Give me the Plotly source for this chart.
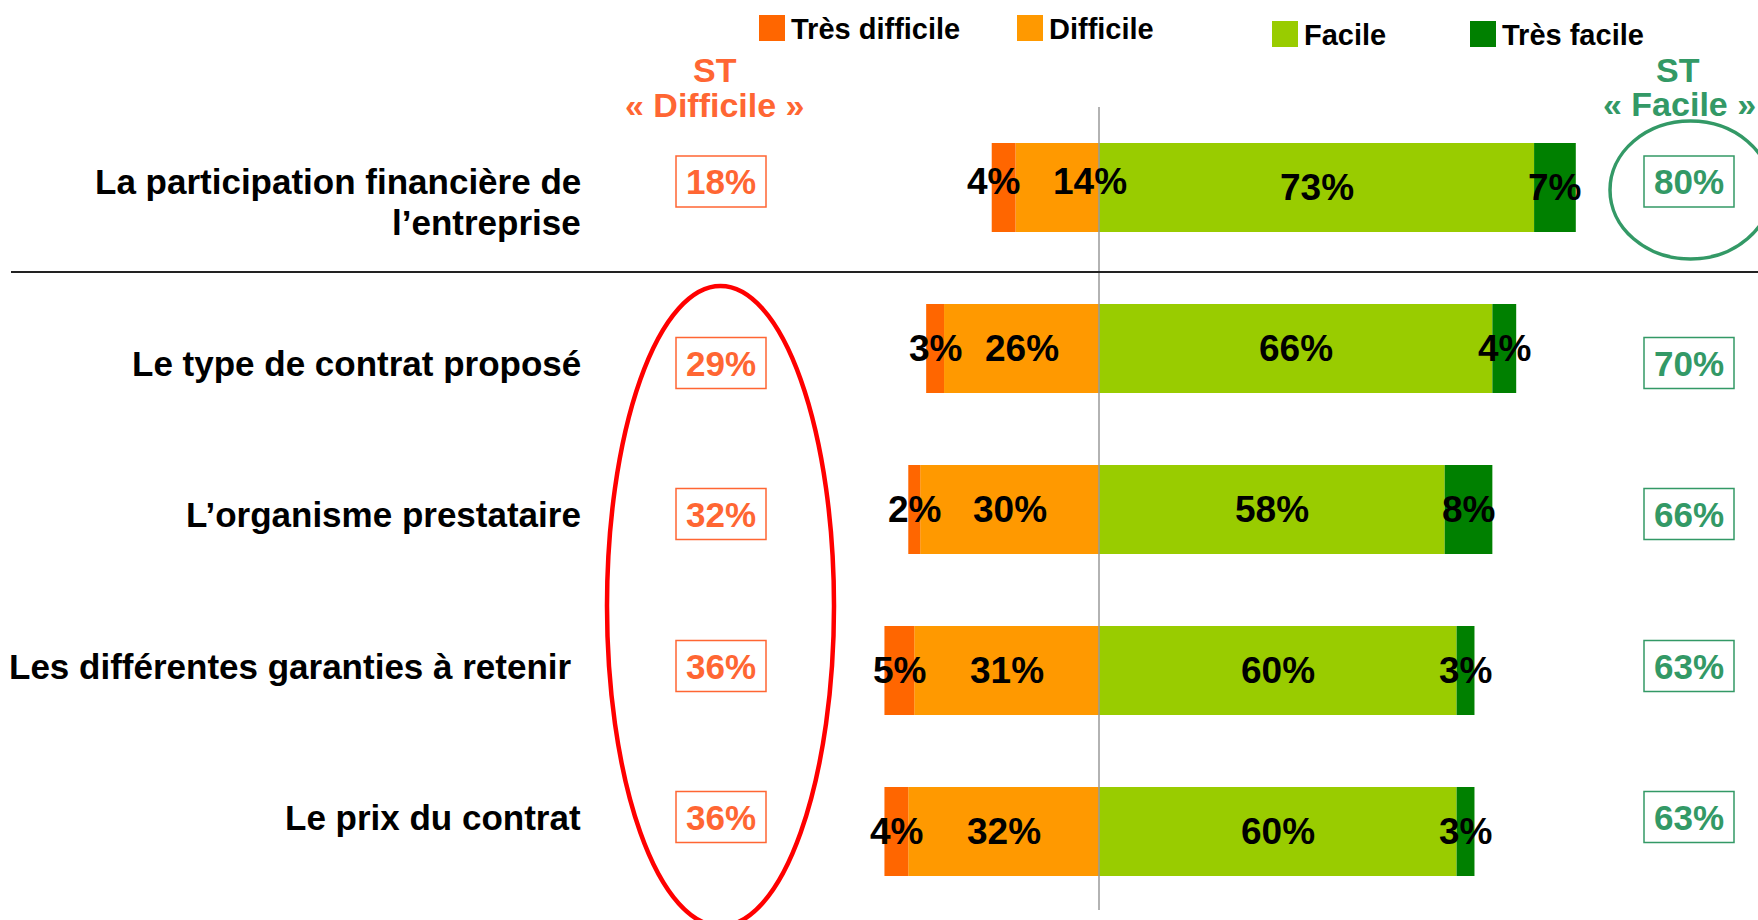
import plotly.graph_objects as go

# ---------------- data ----------------
categories = [
    "La participation financière de<br>l’entreprise",
    "Le type de contrat proposé",
    "L’organisme prestataire",
    "Les différentes garanties à retenir\u00a0",
    "Le prix du contrat",
]
tres_difficile = [4, 3, 2, 5, 4]
difficile = [14, 26, 30, 31, 32]
facile = [73, 66, 58, 60, 60]
tres_facile = [7, 4, 8, 3, 3]
st_difficile = [18, 29, 32, 36, 36]
st_facile = [80, 70, 66, 63, 63]
series_names = ["Très difficile", "Difficile", "Facile", "Très facile"]

# ---------------- styles ----------------
W, H = 1758, 920
C_TD, C_D, C_F, C_TF = "#FF6600", "#FF9900", "#99CC00", "#008000"
ORANGE_TXT = "#FF6633"
GREEN_TXT = "#339966"
FONT = "Liberation Sans, Arial, sans-serif"


def px(x):
    return x / W


def py(y):
    return 1 - y / H


fig = go.Figure()
rows = list(range(len(categories)))
for vals, color, sign in [(difficile, C_D, -1), (tres_difficile, C_TD, -1),
                          (facile, C_F, 1), (tres_facile, C_TF, 1)]:
    fig.add_trace(go.Bar(
        y=rows, x=[sign * v for v in vals], orientation="h",
        marker=dict(color=color, line=dict(width=0)),
        width=0.553, showlegend=False, hoverinfo="skip",
    ))

annotations = []
shapes = []

# bar value labels (centered in each segment)
nudge = {(0, "td"): (-10, 6), (0, "d"): (33, 6)}
for i in rows:
    segs = [
        ("td", -(difficile[i] + tres_difficile[i] / 2), tres_difficile[i]),
        ("d", -difficile[i] / 2, difficile[i]),
        ("f", facile[i] / 2, facile[i]),
        ("tf", facile[i] + tres_facile[i] / 2, tres_facile[i]),
    ]
    for key, xc, v in segs:
        dx, dy = nudge.get((i, key), (0, 0))
        annotations.append(dict(
            x=xc, y=i, xref="x", yref="y", text=f"{v}%", showarrow=False,
            xshift=dx, yshift=dy,
            font=dict(family=FONT, size=37, color="black", weight="bold"),
        ))

# row text / box vertical positions (pixels)
box_y = [181.5, 363, 514, 666, 817]
label_y = [[181, 222], [363], [514], [666], [817]]

for i, cat in enumerate(categories):
    for line, yy in zip(cat.split("<br>"), label_y[i]):
        annotations.append(dict(
            x=px(583), y=py(yy), xref="paper", yref="paper", text=line,
            showarrow=False, xanchor="right", yanchor="middle",
            font=dict(family=FONT, size=35, color="black", weight="bold"),
        ))
    # ST boxes
    for val, xc, col in [(st_difficile[i], 721, ORANGE_TXT), (st_facile[i], 1689, GREEN_TXT)]:
        shapes.append(dict(
            type="rect", xref="paper", yref="paper",
            x0=px(xc - 45), x1=px(xc + 45), y0=py(box_y[i] - 25.5), y1=py(box_y[i] + 25.5),
            line=dict(color=col, width=1.5), fillcolor="white", layer="above",
        ))
        annotations.append(dict(
            x=px(xc), y=py(box_y[i]), xref="paper", yref="paper", text=f"{val}%",
            showarrow=False, xanchor="center", yanchor="middle",
            font=dict(family=FONT, size=35, color=col, weight="bold"),
        ))

# ST headers
for txt, xc, yy, col in [("ST", 715, 70, ORANGE_TXT), ("« Difficile »", 715, 105, ORANGE_TXT),
                         ("ST", 1678, 70, GREEN_TXT), ("« Facile »", 1679, 104, GREEN_TXT)]:
    annotations.append(dict(
        x=px(xc), y=py(yy), xref="paper", yref="paper", text=txt, showarrow=False,
        xanchor="center", yanchor="middle",
        font=dict(family=FONT, size=34, color=col, weight="bold"),
    ))

# manual legend
legend_pos = [(759, 15), (1017, 15), (1272, 21), (1470, 21)]
legend_cols = [C_TD, C_D, C_F, C_TF]
for name, col, (lx, ly) in zip(series_names, legend_cols, legend_pos):
    shapes.append(dict(
        type="rect", xref="paper", yref="paper",
        x0=px(lx), x1=px(lx + 26), y0=py(ly), y1=py(ly + 26),
        line=dict(width=0), fillcolor=col,
    ))
    annotations.append(dict(
        x=px(lx + 30), y=py(ly + 14), xref="paper", yref="paper", text=name,
        showarrow=False, xanchor="left", yanchor="middle",
        font=dict(family=FONT, size=29, color="black", weight="bold"),
    ))

# zero line
shapes.append(dict(type="line", xref="x", yref="paper", x0=0, x1=0,
                   y0=py(107), y1=py(910), line=dict(color="#9A9A9A", width=1.5),
                   layer="above"))
# separator
shapes.append(dict(type="line", xref="paper", yref="paper", x0=px(11), x1=1,
                   y0=py(272), y1=py(272), line=dict(color="#222222", width=2.2)))
# ellipses
shapes.append(dict(type="circle", xref="paper", yref="paper",
                   x0=px(607), x1=px(834), y0=py(286), y1=py(926),
                   line=dict(color="#FF0000", width=4.5)))
shapes.append(dict(type="circle", xref="paper", yref="paper",
                   x0=px(1610), x1=px(1771), y0=py(121), y1=py(259),
                   line=dict(color=GREEN_TXT, width=3.5)))

fig.update_layout(
    width=W, height=H, barmode="relative",
    margin=dict(l=0, r=0, t=0, b=0),
    paper_bgcolor="white", plot_bgcolor="white",
    xaxis=dict(range=[-1099 / 5.96, (W - 1099) / 5.96], visible=False, fixedrange=True),
    yaxis=dict(range=[(H - 187.5) / 161, -187.5 / 161], visible=False, fixedrange=True),
    annotations=annotations, shapes=shapes,
    font=dict(family=FONT),
)

fig.write_html(
    "out.html",
    config={"displayModeBar": False},
    post_script="document.body.style.margin='0';document.body.style.overflow='hidden';",
)
